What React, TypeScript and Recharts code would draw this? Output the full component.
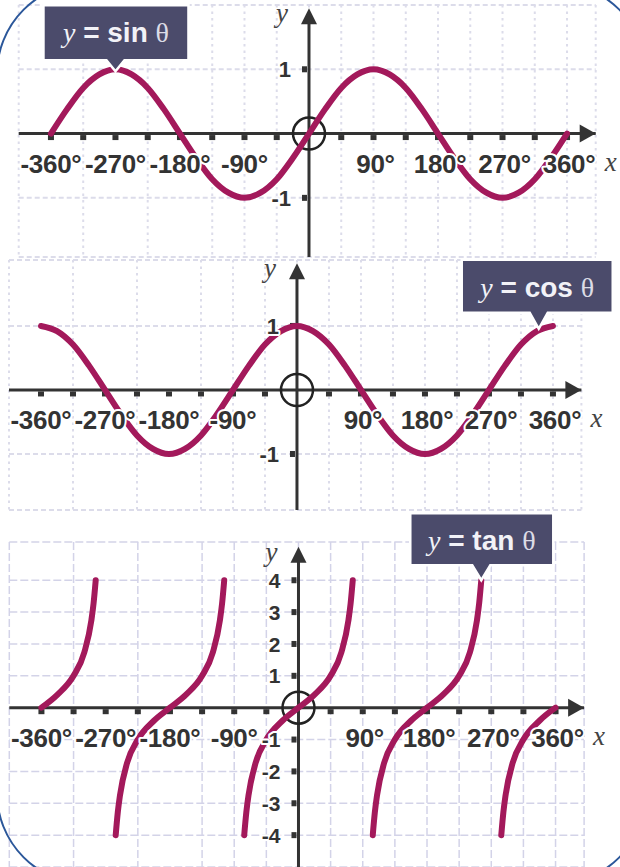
import { LineChart, Line, XAxis, YAxis, CartesianGrid, ReferenceLine, ReferenceDot } from 'recharts'

// angles (degrees) and readings for the sin / cos curves
const ANGLES = [
  -360, -337.5, -315, -292.5, -270, -247.5, -225, -202.5, -180, -157.5, -135, -112.5, -90, -67.5, -45, -22.5,
  0, 22.5, 45, 67.5, 90, 112.5, 135, 157.5, 180, 202.5, 225, 247.5, 270, 292.5, 315, 337.5, 360,
]
const SIN_VALUES = [
  0, 0.38, 0.71, 0.92, 1, 0.92, 0.71, 0.38, 0, -0.38, -0.71, -0.92, -1, -0.92, -0.71, -0.38,
  0, 0.38, 0.71, 0.92, 1, 0.92, 0.71, 0.38, 0, -0.38, -0.71, -0.92, -1, -0.92, -0.71, -0.38, 0,
]
const COS_VALUES = [
  1, 0.92, 0.71, 0.38, 0, -0.38, -0.71, -0.92, -1, -0.92, -0.71, -0.38, 0, 0.38, 0.71, 0.92,
  1, 0.92, 0.71, 0.38, 0, -0.38, -0.71, -0.92, -1, -0.92, -0.71, -0.38, 0, 0.38, 0.71, 0.92, 1,
]

// tan branches (cut at y = ±4)
const TAN_ANGLES_1 = [-360, -337.5, -315, -300, -290, -287, -284]
const TAN_VALUES_1 = [0, 0.41, 1, 1.73, 2.75, 3.27, 4]
const TAN_ANGLES_2 = [-256, -253, -250, -240, -225, -202.5, -180, -157.5, -135, -120, -110, -107, -104]
const TAN_ANGLES_3 = [-76, -73, -70, -60, -45, -22.5, 0, 22.5, 45, 60, 70, 73, 76]
const TAN_ANGLES_4 = [104, 107, 110, 120, 135, 157.5, 180, 202.5, 225, 240, 250, 253, 256]
const TAN_VALUES_FULL = [-4, -3.27, -2.75, -1.73, -1, -0.41, 0, 0.41, 1, 1.73, 2.75, 3.27, 4]
const TAN_ANGLES_5 = [284, 287, 290, 300, 315, 337.5, 360]
const TAN_VALUES_5 = [-4, -3.27, -2.75, -1.73, -1, -0.41, 0]

const X_GRID = [-360, -315, -270, -225, -180, -135, -90, -45, 0, 45, 90, 135, 180, 225, 270, 315, 360]
const X_TICKS = [-360, -315, -270, -225, -180, -135, -90, -45, 45, 90, 135, 180, 225, 270, 315, 360]
const X_LABELS = [-360, -270, -180, -90, 90, 180, 270, 360]
const TRIG_Y_TICKS = [1, -1]
const TAN_Y_TICKS = [4, 3, 2, 1, -1, -2, -3, -4]

const CURVE = '#a3195b'
const AXIS = '#333333'
const BADGE = '#4b4b6b'
const SANS = '"Liberation Sans", Arial, sans-serif'
const SERIF = '"Liberation Serif", "Times New Roman", serif'

type Pt = { x: number; y: number }
const zip = (xs: number[], ys: number[]): Pt[] => xs.map((x, i) => ({ x, y: ys[i] }))

const XTickMark = (p: any) => <rect x={p.cx - 3} y={p.cy + 1.5} width={6} height={5} fill={AXIS} />
const YTickMark = (p: any) => <rect x={p.cx - 7} y={p.cy - 3} width={5} height={6} fill={AXIS} />

const haloText = { stroke: '#fff', strokeWidth: 4, paintOrder: 'stroke' as const, strokeLinejoin: 'round' as const }

const XLabel = (text: string, shift: number) => (p: any) => (
  <text
    x={p.cx + shift}
    y={p.cy + 39}
    textAnchor="middle"
    fontFamily={SANS}
    fontWeight="bold"
    fontSize={26}
    letterSpacing={-0.3}
    fill={AXIS}
    {...haloText}
  >
    {text}
  </text>
)

const YLabel = (text: string, size: number) => (p: any) => (
  <text
    x={p.cx - 18}
    y={p.cy}
    dy="0.36em"
    textAnchor="end"
    fontFamily={SANS}
    fontWeight="bold"
    fontSize={size}
    fill={AXIS}
    {...haloText}
  >
    {text}
  </text>
)

const ArrowX = (p: any) => (
  <g>
    <polygon points={`${p.cx},${p.cy} ${p.cx - 16},${p.cy - 9} ${p.cx - 16},${p.cy + 9}`} fill={AXIS} />
    <text x={p.cx + 9} y={p.cy + 37} fontFamily={SERIF} fontStyle="italic" fontSize={27} fill="#444">
      x
    </text>
  </g>
)

const ArrowY = (p: any) => (
  <g>
    <polygon points={`${p.cx},${p.cy} ${p.cx - 8},${p.cy + 16} ${p.cx + 8},${p.cy + 16}`} fill={AXIS} />
    <text x={p.cx - 21} y={p.cy + 14} textAnchor="end" fontFamily={SERIF} fontStyle="italic" fontSize={27} fill="#444">
      y
    </text>
  </g>
)

interface BadgeBox {
  fn: string
  left: number
  right: number
  top: number
  base: number
  tip: number
}

const Badge = (b: BadgeBox) => (p: any) => {
  const L = p.cx + b.left
  const R = p.cx + b.right
  const T = p.cy - b.top
  const B = p.cy - b.base
  const d = `M${L},${T} H${R} V${B} H${p.cx + 9} L${p.cx},${p.cy + b.tip} L${p.cx - 9},${B} H${L} Z`
  return (
    <g>
      <path d={d} fill={BADGE} stroke="#fff" strokeWidth={2.5} />
      <text x={(L + R) / 2} y={T + 37} textAnchor="middle" fontSize={28} fill="#f2f2f7">
        <tspan fontFamily={SERIF} fontStyle="italic">y</tspan>
        <tspan fontFamily={SANS} fontWeight="bold">{`\u00a0=\u00a0${b.fn}\u00a0`}</tspan>
        <tspan fontFamily={SERIF} fill="#dcdce6">θ</tspan>
      </text>
    </g>
  )
}

interface PanelProps {
  top: number
  height: number
  pad: number
  margin: { top: number; right: number; bottom: number; left: number }
  yDomain: [number, number]
  yArrow: number
  yGrid: number[]
  yTicks: number[]
  yFont: number
  curves: Pt[][]
  dotted: boolean
  badgeAt: Pt
  badge: BadgeBox
}

function Panel(props: PanelProps) {
  const { top, height, pad, margin, yDomain, yArrow, yGrid, yTicks, yFont, curves, dotted, badgeAt, badge } = props
  const gridColor = dotted ? '#dcdcea' : '#d3d3e8'
  return (
    <div style={{ position: 'absolute', left: 0, top: top - pad }}>
      <LineChart width={620} height={height + pad} margin={{ ...margin, top: margin.top + pad }}>
        <XAxis type="number" dataKey="x" domain={[-405, 400]} ticks={X_GRID} allowDataOverflow hide />
        <YAxis type="number" dataKey="y" domain={yDomain} ticks={yGrid} allowDataOverflow hide />
        <CartesianGrid
          horizontal={false}
          stroke={gridColor}
          strokeWidth={dotted ? 2 : 1.5}
          strokeDasharray={dotted ? '2.5 4' : '8 3'}
          zIndex={-100}
        />
        <CartesianGrid
          vertical={false}
          stroke={gridColor}
          strokeWidth={dotted ? 2 : 1.5}
          strokeDasharray={dotted ? '5 3' : '8 3'}
          zIndex={-100}
        />
        <ReferenceLine y={0} stroke={AXIS} strokeWidth={3} zIndex={100} />
        <ReferenceLine
          segment={[
            { x: 0, y: yDomain[0] },
            { x: 0, y: yArrow - 0.1 },
          ]}
          stroke={AXIS}
          strokeWidth={3}
          zIndex={100}
        />
        {X_TICKS.map((v) => (
          <ReferenceDot key={`xt${v}`} x={v} y={0} shape={XTickMark} zIndex={110} />
        ))}
        {yTicks.map((v) => (
          <ReferenceDot key={`yt${v}`} x={0} y={v} shape={YTickMark} zIndex={110} />
        ))}
        <ReferenceDot x={400} y={0} shape={ArrowX} zIndex={120} />
        <ReferenceDot x={0} y={yArrow} shape={ArrowY} zIndex={120} />
        <ReferenceDot x={0} y={0} r={16} fill="none" stroke="#222" strokeWidth={2.5} zIndex={130} />
        {curves.map((c, i) => (
          <Line
            key={`c${i}`}
            data={c}
            dataKey="y"
            type="monotone"
            stroke={CURVE}
            strokeWidth={6}
            strokeLinecap="round"
            dot={false}
            activeDot={false}
            isAnimationActive={false}
            zIndex={400}
          />
        ))}
        {X_LABELS.map((v) => (
          <ReferenceDot key={`xl${v}`} x={v} y={0} shape={XLabel(`${v}°`, v > 0 ? 2 : 0)} zIndex={1500} />
        ))}
        {yTicks.map((v) => (
          <ReferenceDot key={`yl${v}`} x={0} y={v} shape={YLabel(`${v}`, yFont)} zIndex={1500} />
        ))}
        <ReferenceDot x={badgeAt.x} y={badgeAt.y} shape={Badge(badge)} zIndex={1600} />
      </LineChart>
    </div>
  )
}

export default function App() {
  return (
    <div
      style={{
        position: 'absolute',
        left: 0,
        top: 0,
        width: 620,
        height: 867,
        overflow: 'hidden',
        background: '#fff',
      }}
    >
      <Panel
        top={0}
        height={260}
        pad={0}
        margin={{ top: 5, right: 24.3, bottom: 3, left: 18.7 }}
        yDomain={[-1.92, 2]}
        yArrow={1.95}
        yGrid={[-1, 0, 1]}
        yTicks={TRIG_Y_TICKS}
        yFont={22}
        curves={[zip(ANGLES, SIN_VALUES)]}
        dotted
        badgeAt={{ x: -270, y: 1 }}
        badge={{ fn: 'sin', left: -72, right: 73, top: 64, base: 9, tip: 2 }}
      />
      <Panel
        top={258}
        height={253}
        pad={20}
        margin={{ top: 2, right: 38.6, bottom: 1, left: 9 }}
        yDomain={[-1.875, 2.03]}
        yArrow={1.98}
        yGrid={[-1, 0, 1]}
        yTicks={TRIG_Y_TICKS}
        yFont={22}
        curves={[zip(ANGLES, COS_VALUES)]}
        dotted
        badgeAt={{ x: 340, y: 0.94 }}
        badge={{ fn: 'cos', left: -77, right: 74, top: 70, base: 17, tip: -1 }}
      />
      <Panel
        top={540}
        height={327}
        pad={40}
        margin={{ top: 2, right: 35.9, bottom: 0, left: 9.3 }}
        yDomain={[-5, 5.2]}
        yArrow={5.05}
        yGrid={[-4, -3, -2, -1, 0, 1, 2, 3, 4]}
        yTicks={TAN_Y_TICKS}
        yFont={21}
        curves={[
          zip(TAN_ANGLES_1, TAN_VALUES_1),
          zip(TAN_ANGLES_2, TAN_VALUES_FULL),
          zip(TAN_ANGLES_3, TAN_VALUES_FULL),
          zip(TAN_ANGLES_4, TAN_VALUES_FULL),
          zip(TAN_ANGLES_5, TAN_VALUES_5),
        ]}
        dotted={false}
        badgeAt={{ x: 256, y: 4 }}
        badge={{ fn: 'tan', left: -71, right: 72, top: 67, base: 15, tip: 0 }}
      />
      <div
        style={{
          position: 'absolute',
          left: -4,
          top: -18,
          width: 651,
          height: 903,
          boxSizing: 'border-box',
          border: '2px solid #2b579a',
          borderRadius: 92,
          pointerEvents: 'none',
        }}
      />
    </div>
  )
}
